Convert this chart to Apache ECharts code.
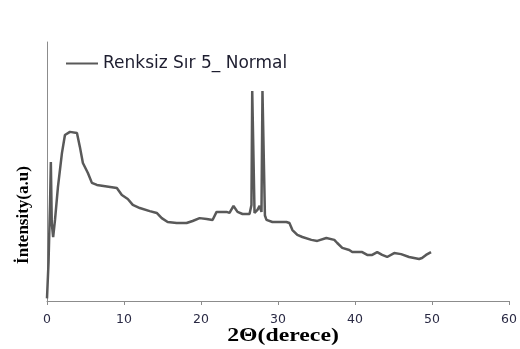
<!DOCTYPE html>
<html>
<head>
<meta charset="utf-8">
<script src="https://cdn.jsdelivr.net/npm/echarts@6/dist/echarts.min.js"></script>
<style>
  html, body { margin: 0; padding: 0; background: #fff; }
  #chart { width: 520px; height: 349px; }
</style>
</head>
<body>
<div id="chart"></div>
<script>
// XRD scan: 2-theta angle (degrees) and relative intensity
const twoTheta = [
  0, 0.2, 0.4, 0.5, 0.62, 0.8, 1.04, 1.42, 1.94, 2.33, 2.98, 3.89, 4.27, 4.66,
  5.31, 5.83, 6.48, 9.07, 9.72, 10.49, 11.14, 12.05, 13.34, 14.25, 14.9, 15.67,
  16.84, 18.13, 18.91, 19.82, 20.73, 21.5, 22.02, 23.32, 23.7, 24.22, 24.74,
  25.39, 26.3, 26.55, 26.65, 26.8, 26.95, 27.33, 27.6, 27.85, 27.98, 28.13,
  28.3, 28.5, 29.27, 31.09, 31.48, 31.87, 32.51, 33.16, 34.33, 35.1, 36.27,
  37.31, 37.69, 38.34, 39.25, 39.64, 40.93, 41.58, 42.23, 42.88, 43.52, 44.17,
  45.08, 45.98, 47.02, 48.32, 48.7, 49.22, 49.87
];
const intensity = [
  1, 15, 38, 53.7, 30, 24.7, 31.3, 44.0, 57.1, 64.1, 65.3, 64.9, 59.5, 53.3,
  49.4, 45.6, 44.8, 43.6, 40.9, 39.4, 37.1, 35.9, 34.7, 34.0, 32.0, 30.5,
  30.1, 30.1, 30.9, 32.0, 31.7, 31.3, 34.4, 34.4, 34.0, 36.7, 34.4,
  33.6, 33.6, 37.1, 81.1, 81.1, 34.0, 35.2, 36.7, 34.4, 81.1, 81.1,
  33.0, 31.3, 30.5, 30.5, 30.1, 27.4, 25.5, 24.7, 23.6, 23.2, 24.3,
  23.6, 22.4, 20.5, 19.7, 18.9, 18.9, 17.8, 17.8, 18.9, 17.8, 17.0,
  18.5, 18.1, 17.0, 16.2, 16.6, 17.8, 18.9
];
const xTicks = [0, 10, 20, 30, 40, 50, 60];
const seriesName = 'Renksiz Sır 5_ Normal';
const xTitle = '2Θ(derece)';
const yTitle = 'İntensity(a.u)';

const titleFont = 'Liberation Serif';

const chart = echarts.init(document.getElementById('chart'), null, { renderer: 'canvas' });
chart.setOption({
  animation: false,
  backgroundColor: '#ffffff',
  grid: { left: 47, right: 10, top: 42, bottom: 48 },
  legend: {
    left: 61, top: 50,
    icon: 'rect', itemWidth: 32, itemHeight: 2, itemGap: 5,
    textStyle: { fontFamily: 'DejaVu Sans', fontSize: 17, color: '#1e1e30' },
    data: [seriesName]
  },
  xAxis: {
    type: 'value',
    min: xTicks[0], max: xTicks[xTicks.length - 1], interval: 10,
    axisLine: { lineStyle: { color: '#8c8c8c', width: 1 } },
    axisTick: { show: true, length: 4, inside: false, lineStyle: { color: '#8c8c8c' } },
    axisLabel: { fontFamily: 'DejaVu Sans', fontSize: 12.5, color: '#2a2a44', margin: 12 },
    splitLine: { show: false }
  },
  yAxis: {
    type: 'value', min: 0, max: 100,
    axisLine: { show: true, lineStyle: { color: '#8c8c8c', width: 1 } },
    axisTick: { show: false },
    axisLabel: { show: false },
    splitLine: { show: false }
  },
  // axis titles, set as wide bold serif text
  graphic: [
    {
      type: 'text', x: 283, y: 336, scaleX: 1.25,
      style: {
        text: xTitle, font: 'bold 19px "' + titleFont + '"',
        fill: '#000', align: 'center', verticalAlign: 'middle'
      }
    },
    {
      type: 'text', x: 24, y: 215, rotation: Math.PI / 2,
      style: {
        text: yTitle, font: 'bold 17px "' + titleFont + '"',
        fill: '#000', align: 'center', verticalAlign: 'middle'
      }
    }
  ],
  series: [{
    name: seriesName,
    type: 'line',
    showSymbol: false,
    data: twoTheta.map((t, i) => [t, intensity[i]]),
    lineStyle: { color: '#595959', width: 2.5 },
    itemStyle: { color: '#595959' }
  }]
});
</script>
</body>
</html>
